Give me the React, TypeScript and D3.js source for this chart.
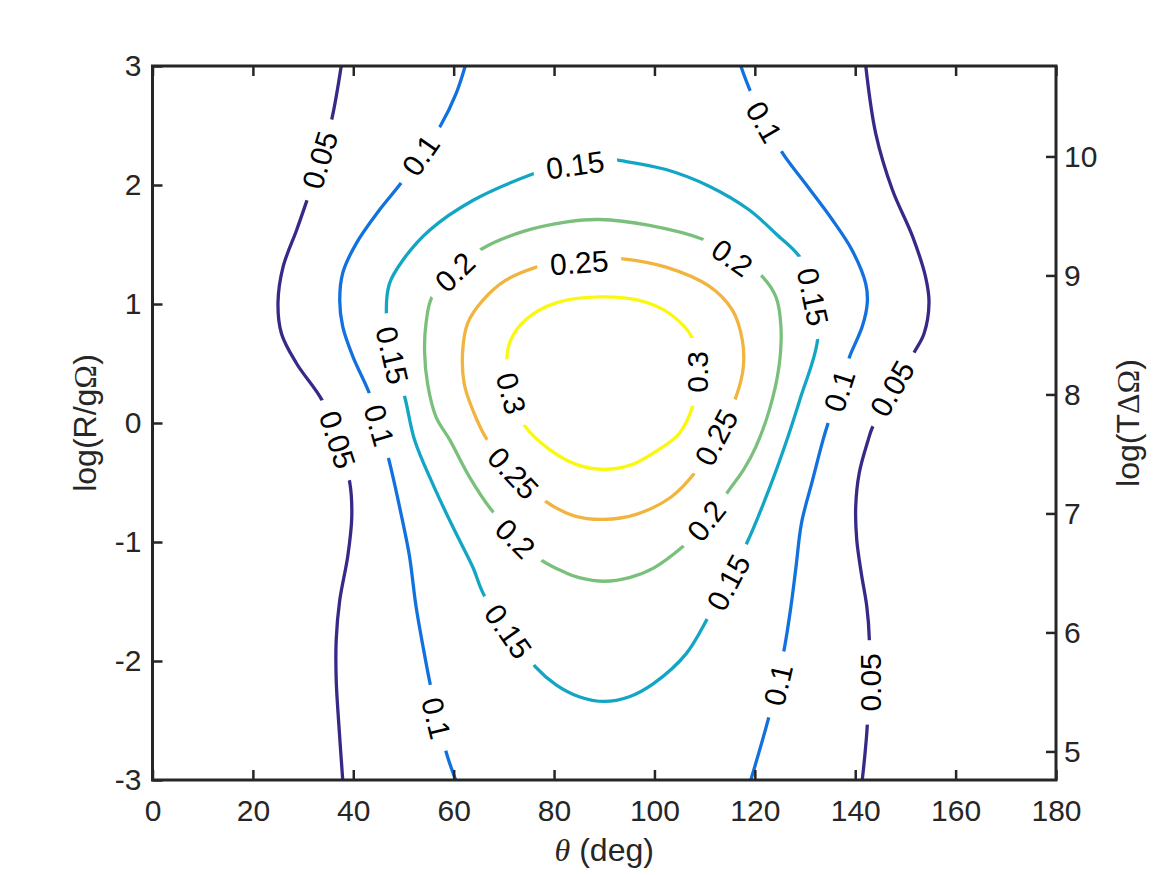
import { useEffect, useRef } from 'react';
import * as d3 from 'd3';

// axis ticks
const thetaTicks = [0, 20, 40, 60, 80, 100, 120, 140, 160, 180];
const logRTicks = [-3, -2, -1, 0, 1, 2, 3];
const logTTicks = [5, 6, 7, 8, 9, 10];
const logRDomain = [-3, 3];
const logTDomain = [4.76, 10.76];

// contour levels and their (parula) colours
const levels = [0.05, 0.1, 0.15, 0.2, 0.25, 0.3];
const levelColours = ['#352a87', '#1171de', '#12a6c4', '#7ac07c', '#f1b43e', '#f9f80e'];

// contour lines as [theta (deg), log(R/gΩ)]
const contour005Left: [number, number][] = [
  [37.6, 3.0], [35.7, 2.55], [33.3, 2.19], [30.6, 1.85], [28.7, 1.62], [26.0, 1.31],
  [25.0, 1.01], [25.7, 0.75], [28.7, 0.5], [33.8, 0.19], [36.9, -0.14], [39.3, -0.5],
  [39.7, -0.79], [38.9, -1.12], [37.3, -1.49], [36.6, -1.82], [36.6, -2.16], [37.1, -2.52], [37.9, -3.0],
];
const contour005Right: [number, number][] = [
  [142.1, 3.0], [144.1, 2.43], [147.4, 1.96], [151.4, 1.57], [154.0, 1.23], [154.7, 1.01],
  [153.7, 0.75], [151.7, 0.59], [147.7, 0.28], [143.4, -0.04], [142.6, -0.14], [140.8, -0.42],
  [140.1, -0.7], [140.3, -0.98], [141.2, -1.26], [142.3, -1.54], [142.8, -1.81], [142.6, -2.15],
  [142.4, -2.54], [141.9, -2.8], [141.4, -3.0],
];
const contour010Left: [number, number][] = [
  [62.3, 3.0], [60.5, 2.77], [57.4, 2.5], [53.4, 2.25], [49.4, 2.01], [45.2, 1.79], [40.6, 1.51],
  [37.9, 1.26], [37.3, 1.03], [37.9, 0.81], [39.9, 0.56], [43.2, 0.25], [45.2, -0.02], [47.1, -0.31],
  [49.9, -0.84], [51.2, -1.12], [52.5, -1.54], [53.9, -1.88], [55.4, -2.21], [57.0, -2.5], [58.6, -2.78], [60.4, -3.0],
];
const contour010Right: [number, number][] = [
  [117.2, 3.0], [119.2, 2.78], [122.2, 2.53], [125.5, 2.27], [130.1, 2.01], [135.4, 1.71], [139.4, 1.45],
  [142.1, 1.17], [142.4, 1.01], [141.4, 0.81], [138.9, 0.56], [136.8, 0.28], [134.6, 0.0], [133.6, -0.14],
  [131.5, -0.48], [129.3, -0.84], [128.2, -1.21], [127.2, -1.54], [125.9, -1.89], [124.4, -2.18], [122.8, -2.47], [119.2, -3.0],
];
const contour015: [number, number][] = [
  [90.0, 2.22], [84.0, 2.2], [75.6, 2.09], [63.8, 1.87], [55.2, 1.62], [49.9, 1.37], [47.2, 1.17], [46.6, 0.92],
  [47.8, 0.57], [50.3, 0.21], [52.2, -0.14], [55.8, -0.51], [59.8, -0.87], [63.8, -1.21], [66.1, -1.45],
  [71.1, -1.74], [76.3, -2.05], [80.4, -2.2], [85.0, -2.3], [90.0, -2.34], [95.0, -2.3], [99.8, -2.19],
  [106.3, -1.94], [110.6, -1.64], [114.5, -1.32], [118.5, -1.0], [122.8, -0.56], [126.4, -0.14], [129.0, 0.2],
  [132.5, 0.7], [131.8, 1.08], [129.2, 1.38], [124.2, 1.59], [118.9, 1.79], [110.9, 1.99], [102.3, 2.13], [94.0, 2.2],
];
const contour020: [number, number][] = [
  [89.0, 1.71], [99.0, 1.66], [109.9, 1.54], [115.9, 1.41], [121.5, 1.23], [124.2, 1.06], [125.2, 0.81],
  [124.8, 0.47], [122.9, 0.11], [120.2, -0.2], [117.8, -0.39], [114.6, -0.58], [110.9, -0.82], [105.9, -1.03],
  [99.8, -1.22], [95.0, -1.3], [90.0, -1.33], [85.0, -1.3], [82.4, -1.26], [77.4, -1.15], [72.1, -0.94],
  [67.7, -0.74], [63.1, -0.45], [59.2, -0.14], [56.5, 0.05], [54.8, 0.33], [54.2, 0.61], [54.5, 0.84],
  [55.7, 1.06], [60.2, 1.27], [65.5, 1.46], [73.9, 1.61], [82.6, 1.69],
];
const contour025: [number, number][] = [
  [90.0, -0.81], [96.2, -0.77], [103.4, -0.62], [108.4, -0.4], [112.9, -0.1], [116.5, 0.25], [117.7, 0.47],
  [117.5, 0.7], [115.5, 0.95], [110.9, 1.15], [102.3, 1.31], [93.7, 1.38], [85.0, 1.39], [76.5, 1.31],
  [70.4, 1.2], [65.8, 1.03], [62.8, 0.84], [61.8, 0.61], [62.1, 0.33], [63.8, 0.11], [66.5, -0.13],
  [71.5, -0.39], [78.4, -0.66], [84.0, -0.78],
];
const contour030: [number, number][] = [
  [89.0, 1.06], [97.0, 1.03], [103.0, 0.92], [107.6, 0.71], [108.5, 0.43], [107.6, 0.14], [104.9, -0.09],
  [100.6, -0.23], [95.5, -0.35], [90.0, -0.39], [84.5, -0.35], [79.0, -0.22], [74.1, -0.02],
  [71.5, 0.24], [70.6, 0.54], [71.4, 0.7], [74.4, 0.87], [80.4, 1.01],
];

const contourLines = [
  { level: 0.05, points: contour005Left, closed: false },
  { level: 0.05, points: contour005Right, closed: false },
  { level: 0.1, points: contour010Left, closed: false },
  { level: 0.1, points: contour010Right, closed: false },
  { level: 0.15, points: contour015, closed: true },
  { level: 0.2, points: contour020, closed: true },
  { level: 0.25, points: contour025, closed: true },
  { level: 0.3, points: contour030, closed: true },
];

// inline labels: [text, theta, logR, angle along the line]
const contourLabels: [string, number, number, number][] = [
  ['0.05', 33.3, 2.21, -73], ['0.1', 53.4, 2.25, -55], ['0.15', 84.2, 2.17, -8],
  ['0.2', 60.2, 1.27, -44], ['0.25', 85.0, 1.35, -4], ['0.15', 47.8, 0.57, 77],
  ['0.3', 71.5, 0.25, 75], ['0.05', 36.9, -0.14, 72], ['0.1', 45.2, -0.02, 74],
  ['0.25', 71.9, -0.42, 47], ['0.2', 72.3, -0.97, 45], ['0.15', 70.9, -1.75, 55],
  ['0.1', 56.6, -2.48, 76], ['0.1', 121.9, 2.53, 60], ['0.2', 115.5, 1.39, 35],
  ['0.15', 131.6, 1.06, 78], ['0.3', 108.5, 0.43, -90], ['0.25', 112.3, -0.12, -62],
  ['0.1', 136.8, 0.27, -72], ['0.05', 147.3, 0.29, -60], ['0.2', 110.3, -0.82, -52],
  ['0.15', 114.7, -1.34, -62], ['0.1', 124.6, -2.2, -77], ['0.05', 142.9, -2.18, -90],
];

const App = () => {
  const svgRef = useRef(null);

  useEffect(() => {
    document.body.style.margin = '0';
    const width = 1167;
    const height = 875;
    const plot = { left: 152.5, right: 1056, top: 66, bottom: 780 };
    const axisColour = '#262626';
    const font = "'Liberation Sans', Arial, Helvetica, sans-serif";
    const serif = "'Liberation Serif', 'DejaVu Serif', serif";

    const svg = d3.select(svgRef.current);
    svg.selectAll('*').remove();
    svg
      .attr('width', width)
      .attr('height', height)
      .attr('viewBox', `0 0 ${width} ${height}`)
      .style('display', 'block')
      .style('background', 'white');

    const xScale = d3.scaleLinear().domain([0, 180]).range([plot.left, plot.right]);
    const yScale = d3.scaleLinear().domain(logRDomain).range([plot.bottom, plot.top]);
    const yRightScale = d3.scaleLinear().domain(logTDomain).range([plot.bottom, plot.top]);

    const defs = svg.append('defs');
    defs
      .append('clipPath')
      .attr('id', 'plot-clip')
      .append('rect')
      .attr('x', plot.left)
      .attr('y', plot.top)
      .attr('width', plot.right - plot.left)
      .attr('height', plot.bottom - plot.top);

    const mask = defs
      .append('mask')
      .attr('id', 'label-gaps')
      .attr('maskUnits', 'userSpaceOnUse')
      .attr('x', 0)
      .attr('y', 0)
      .attr('width', width)
      .attr('height', height);
    mask.append('rect').attr('width', width).attr('height', height).attr('fill', 'white');

    const colourOf = d3.scaleOrdinal<number, string>().domain(levels).range(levelColours);

    const lineGroup = svg
      .append('g')
      .attr('clip-path', 'url(#plot-clip)')
      .append('g')
      .attr('mask', 'url(#label-gaps)');

    for (const c of contourLines) {
      const gen = d3
        .line<[number, number]>()
        .x((d) => xScale(d[0]))
        .y((d) => yScale(d[1]))
        .curve(c.closed ? d3.curveCatmullRomClosed.alpha(0.5) : d3.curveCatmullRom.alpha(0.5));
      lineGroup
        .append('path')
        .attr('d', gen(c.points))
        .attr('fill', 'none')
        .attr('stroke', colourOf(c.level))
        .attr('stroke-width', 3.3)
        .attr('stroke-linejoin', 'round');
    }

    // contour labels, with a gap cut in the line underneath
    const labelGroup = svg.append('g');
    for (const [text, th, lr, angle] of contourLabels) {
      const tf = `translate(${xScale(th)},${yScale(lr)}) rotate(${angle})`;
      const t = labelGroup
        .append('text')
        .attr('transform', tf)
        .attr('text-anchor', 'middle')
        .attr('dy', '0.36em')
        .style('font-family', font)
        .style('font-size', '30px')
        .attr('fill', '#000')
        .text(text);
      const w = (t.node() as SVGTextElement).getComputedTextLength();
      mask
        .append('rect')
        .attr('transform', tf)
        .attr('x', -w / 2 - 13)
        .attr('y', -16)
        .attr('width', w + 26)
        .attr('height', 32)
        .attr('fill', 'black');
    }

    // axes
    const styleAxis = (g) => {
      g.attr('font-family', font).attr('font-size', 30).attr('color', axisColour);
      g.select('.domain').remove();
      g.selectAll('.tick line').attr('stroke-width', 2.5);
      g.selectAll('.tick text').attr('fill', axisColour);
    };

    svg
      .append('g')
      .attr('transform', `translate(0,${plot.bottom})`)
      .call(d3.axisBottom(xScale).tickValues(thetaTicks).tickSizeInner(-10).tickSizeOuter(0).tickPadding(20).tickFormat((d) => String(d)))
      .call(styleAxis);

    svg
      .append('g')
      .attr('transform', `translate(0,${plot.top})`)
      .call(d3.axisTop(xScale).tickValues(thetaTicks).tickSizeInner(-10).tickSizeOuter(0).tickFormat(() => ''))
      .call(styleAxis);

    svg
      .append('g')
      .attr('transform', `translate(${plot.left},0)`)
      .call(d3.axisLeft(yScale).tickValues(logRTicks).tickSizeInner(-10).tickSizeOuter(0).tickPadding(11).tickFormat((d) => String(d)))
      .call(styleAxis);

    svg
      .append('g')
      .attr('transform', `translate(${plot.right},0)`)
      .call(d3.axisRight(yRightScale).tickValues(logTTicks).tickSizeInner(-10).tickSizeOuter(0).tickPadding(8).tickFormat((d) => String(d)))
      .call(styleAxis);

    // box
    svg
      .append('rect')
      .attr('x', plot.left)
      .attr('y', plot.top)
      .attr('width', plot.right - plot.left)
      .attr('height', plot.bottom - plot.top)
      .attr('fill', 'none')
      .attr('stroke', axisColour)
      .attr('stroke-width', 3);

    // axis titles
    const xTitle = svg
      .append('text')
      .attr('x', (plot.left + plot.right) / 2)
      .attr('y', 861)
      .attr('text-anchor', 'middle')
      .style('font-family', font)
      .style('font-size', '32px')
      .attr('fill', axisColour);
    xTitle.append('tspan').style('font-family', serif).style('font-style', 'italic').text('θ');
    xTitle.append('tspan').text(' (deg)');

    const yTitle = svg
      .append('text')
      .attr('transform', `translate(96,${(plot.top + plot.bottom) / 2}) rotate(-90)`)
      .attr('text-anchor', 'middle')
      .style('font-family', font)
      .style('font-size', '32px')
      .attr('fill', axisColour);
    yTitle.append('tspan').text('log(R/g');
    yTitle.append('tspan').style('font-family', serif).text('Ω');
    yTitle.append('tspan').text(')');

    const yRightTitle = svg
      .append('text')
      .attr('transform', `translate(1139,${(plot.top + plot.bottom) / 2}) rotate(-90)`)
      .attr('text-anchor', 'middle')
      .style('font-family', font)
      .style('font-size', '32px')
      .attr('fill', axisColour);
    yRightTitle.append('tspan').text('log(T');
    yRightTitle.append('tspan').style('font-family', serif).text('ΔΩ');
    yRightTitle.append('tspan').text(')');
  }, []);

  return <svg ref={svgRef}></svg>;
};

export default App;
